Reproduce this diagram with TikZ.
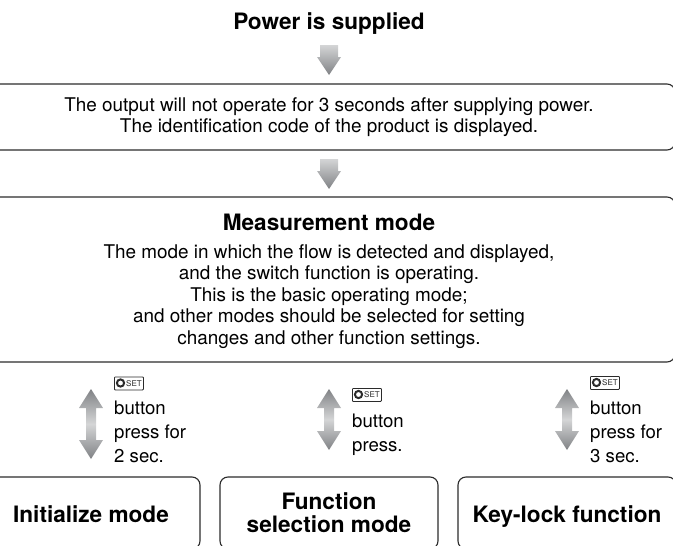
\documentclass[tikz,border=0pt]{standalone}
\usepackage{fontspec}
\setmainfont{TeX Gyre Heros}
\definecolor{linegray}{HTML}{2B2B2B}
\definecolor{arrowdark}{HTML}{808285}
\definecolor{arrowlight}{HTML}{D4D5D6}
\newcommand{\boxstrut}{\rule[-5pt]{0pt}{28pt}}
\tikzset{
    modebox/.style={draw=linegray, line width=1.1pt, rounded corners=8pt, align=center, inner sep=0pt,
        font=\fontsize{18.9}{21.5}\selectfont},
    titletext/.style={font=\bfseries\fontsize{22.6}{23}\selectfont, align=center, inner sep=0pt},
    presstext/.style={font=\fontsize{18.6}{24}\selectfont, align=left, anchor=north west, inner sep=0pt},
    setbox/.style={draw=linegray, line width=0.8pt, rounded corners=0.8pt, minimum width=29pt, minimum height=13pt,
        inner sep=0pt, anchor=north west},
    settext/.style={font=\fontsize{8}{9}\selectfont, inner sep=0pt, anchor=west, text=linegray},
    downblock/.pic={
        \shadedraw[draw=none, top color=arrowlight, bottom color=arrowdark]
            (-9,0) -- (9,0) -- (9,12) -- (12,12) -- (0,30) -- (-12,12) -- (-9,12) -- cycle;
    },
    updown/.pic={
        \shadedraw[draw=none, top color=arrowdark, bottom color=arrowdark, middle color=arrowlight]
            (0,0) -- (12,\hd) -- (5,\hd) -- (5,\len-\hd) -- (12,\len-\hd) -- (0,\len)
            -- (-12,\len-\hd) -- (-5,\len-\hd) -- (-5,\hd) -- (-12,\hd) -- cycle;
    },
    seticon/.pic={
        \node[setbox] (-frame) at (0,0) {};
        \draw[linegray, line width=2pt] (6.5,6.5) circle (3.6pt);
        \node[settext] (-set) at (12,6.7) {SET};
    }
}
\begin{document}
\begin{tikzpicture}[x=1pt, y=-1pt]
    \useasboundingbox (0,0) rectangle (673,546);
    \clip (0,0) rectangle (673,546);

    % Text and boxes
    \node[titletext] (power) at (329,24) {Power is supplied};
    \node[modebox, minimum width=692pt, minimum height=66pt] (output) at (329,117)
        {The output will not operate for 3 seconds after supplying power.\\
         The identification code of the product is displayed.};
    \node[modebox, minimum width=692pt, minimum height=165pt] (measure) at (329,279.5)
        {{\bfseries\fontsize{22.6}{23}\selectfont\rule{0pt}{20pt}Measurement mode}\\[6pt]
         The mode in which the flow is detected and displayed,\\
         and the switch function is operating.\\
         This is the basic operating mode;\\
         and other modes should be selected for setting\\
         changes and other function settings.};

    \node[modebox, titletext, minimum width=218pt, minimum height=72pt] (init) at (91,513) {\boxstrut Initialize mode};
    \node[modebox, titletext, minimum width=218pt, minimum height=72pt] (func) at (329,513) {Function\\selection mode};
    \node[modebox, titletext, minimum width=218pt, minimum height=72pt] (lock) at (567,513) {\boxstrut Key-lock function};

    % Block arrows
    \path (329,45) pic {downblock};
    \path (329,159) pic {downblock};
    \def\hd{19}
    \def\len{70}
    \path (91,389) pic {updown};
    \def\len{61}
    \path (329,389) pic {updown};
    \path (567,389) pic {updown};

    % Button labels
    \path (114,376.5) pic (seta) {seticon};
    \path (352,388) pic (setb) {seticon};
    \path (590,376) pic (setc) {seticon};
    \node[presstext] (pressa) at (114,401) {button\\press for\\2 sec.};
    \node[presstext] (pressb) at (352,413.5) {button\\press.};
    \node[presstext] (pressc) at (590,401) {button\\press for\\3 sec.};
\end{tikzpicture}
\end{document}
